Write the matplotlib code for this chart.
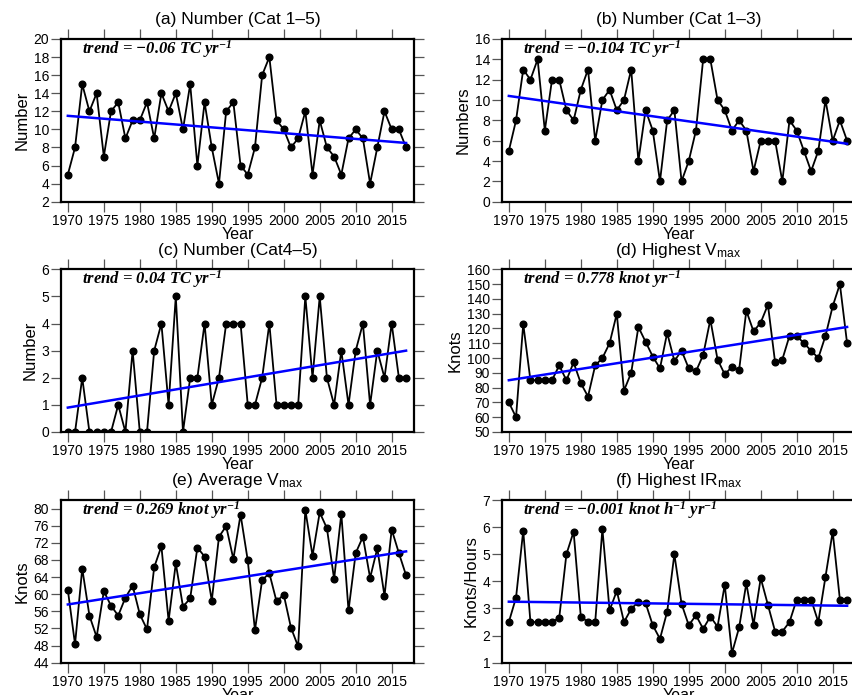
import matplotlib
matplotlib.use("Agg")
import matplotlib.pyplot as plt
import numpy as np

years = list(range(1970, 2018))

num_cat15 = [5, 8, 15, 12, 14, 7, 12, 13, 9, 11, 11, 13, 9, 14, 12, 14, 10, 15, 6, 13,
             8, 4, 12, 13, 6, 5, 8, 16, 18, 11, 10, 8, 9, 12, 5, 11, 8, 7, 5, 9,
             10, 9, 4, 8, 12, 10, 10, 8]
num_cat13 = [5, 8, 13, 12, 14, 7, 12, 12, 9, 8, 11, 13, 6, 10, 11, 9, 10, 13, 4, 9,
             7, 2, 8, 9, 2, 4, 7, 14, 14, 10, 9, 7, 8, 7, 3, 6, 6, 6, 2, 8,
             7, 5, 3, 5, 10, 6, 8, 6]
num_cat45 = [0, 0, 2, 0, 0, 0, 0, 1, 0, 3, 0, 0, 3, 4, 1, 5, 0, 2, 2, 4,
             1, 2, 4, 4, 4, 1, 1, 2, 4, 1, 1, 1, 1, 5, 2, 5, 2, 1, 3, 1,
             3, 4, 1, 3, 2, 4, 2, 2]
highest_vmax = [70, 60, 123, 85, 85, 85, 85, 95, 85, 97, 83, 74, 95, 100, 110, 130, 78, 90, 121, 111,
                101, 93, 117, 98, 105, 93, 91, 102, 126, 99, 89, 94, 92, 132, 118, 124, 136, 97, 99, 115,
                115, 110, 105, 100, 115, 135, 150, 110]
average_vmax = [61.0, 48.3, 66.0, 55.0, 50.0, 60.7, 57.3, 55.0, 59.2, 62.0, 55.3, 51.8, 66.3, 71.2, 53.8,
                67.2, 57.1, 59.0, 70.9, 68.8, 58.5, 73.4, 75.9, 68.2, 78.6, 67.9, 51.6, 63.3, 64.9, 58.3,
                59.9, 52.2, 47.8, 79.7, 69.0, 79.1, 75.4, 63.5, 78.8, 56.2, 69.6, 73.4, 63.8, 70.7, 59.6,
                75.1, 69.6, 64.4]
highest_irmax = [2.5, 3.4, 5.87, 2.5, 2.5, 2.5, 2.5, 2.65, 5.0, 5.83, 2.7, 2.5, 2.5, 5.93, 2.93, 3.65,
                 2.5, 2.98, 3.25, 3.2, 2.38, 1.88, 2.88, 5.0, 3.17, 2.38, 2.75, 2.25, 2.7, 2.33, 3.87,
                 1.35, 2.3, 3.93, 2.4, 4.12, 3.13, 2.15, 2.15, 2.5, 3.33, 3.33, 3.33, 2.5, 4.17, 5.83,
                 3.33, 3.33]

trend_start = [11.5, 10.4, 0.9, 85.0, 57.6, 3.25]
trend_end = [8.5, 5.7, 3.0, 121.0, 70.0, 3.10]

titles = ["(a) Number (Cat 1\u20135)", "(b) Number (Cat 1\u20133)", "(c) Number (Cat4\u20135)",
          r"(d) Highest V$\mathregular{_{max}}$", r"(e) Average V$\mathregular{_{max}}$",
          r"(f) Highest IR$\mathregular{_{max}}$"]
ylabels = ["Number", "Numbers", "Number", "Knots", "Knots", "Knots/Hours"]
trend_texts = [r"trend = $\mathregular{-}$0.06 TC yr$\mathregular{^{-1}}$",
               r"trend = $\mathregular{-}$0.104 TC yr$\mathregular{^{-1}}$",
               r"trend = 0.04 TC yr$\mathregular{^{-1}}$",
               r"trend = 0.778 knot yr$\mathregular{^{-1}}$",
               r"trend = 0.269 knot yr$\mathregular{^{-1}}$",
               r"trend = $\mathregular{-}$0.001 knot h$\mathregular{^{-1}}$ yr$\mathregular{^{-1}}$"]
ylims = [(2, 20), (0, 16), (0, 6), (50, 160), (44, 82), (1, 7)]
yticks = [np.arange(2, 21, 2), np.arange(0, 17, 2), np.arange(0, 7, 1),
          np.arange(50, 161, 10), np.arange(44, 81, 4), np.arange(1, 8, 1)]
xticks = list(range(1970, 2016, 5))
series = [num_cat15, num_cat13, num_cat45, highest_vmax, average_vmax, highest_irmax]

plt.rcParams['font.family'] = ['Liberation Sans', 'DejaVu Sans']

W, H = 852, 695
fig = plt.figure(figsize=(W / 100, H / 100), dpi=100)

lefts = [61, 502]
tops = [39, 269.3, 500]
aw, ah = 353, 162.7

for i in range(6):
    r, c = divmod(i, 2)
    left = lefts[c] / W
    bottom = 1 - (tops[r] + ah) / H
    ax = fig.add_axes([left, bottom, aw / W, ah / H])
    ax.plot(years, series[i], color='black', lw=1.3, marker='o', ms=4.8, zorder=3)
    ax.plot([years[0], years[-1]], [trend_start[i], trend_end[i]], color='#0000ff', lw=1.8, zorder=4)
    ax.set_xlim(1969.05, 2018.1)
    ax.set_ylim(*ylims[i])
    ax.set_xticks(xticks)
    ax.set_yticks(yticks[i])
    ax.tick_params(axis='both', which='major', direction='out', length=7, width=0.9,
                   color='#555555', labelsize=10, pad=1.5,
                   top=True, right=True, labeltop=False, labelright=False)
    for sp in ax.spines.values():
        sp.set_linewidth(1.6)
    ax.set_xlabel("Year", fontsize=11.5, labelpad=-0.5)
    ax.set_ylabel(ylabels[i], fontsize=12, labelpad=3)
    ax.text(0.5, 1.118, titles[i], transform=ax.transAxes, ha='center', va='center', fontsize=12.5)
    ax.text(0.06, 0.94, trend_texts[i], transform=ax.transAxes, ha='left', va='center',
            fontsize=12, family='Liberation Serif', weight='bold', style='italic')

fig.savefig("out.png", dpi=100)
